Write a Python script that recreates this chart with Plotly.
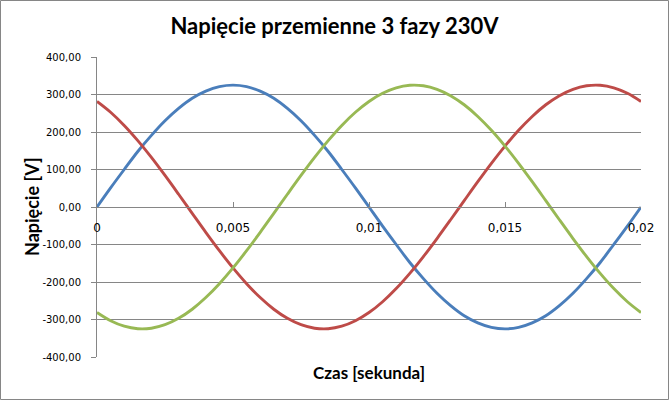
import plotly.graph_objects as go

# Time samples [s]
czas = [0.0, 0.0005, 0.001, 0.0015, 0.002, 0.0025, 0.003, 0.0035, 0.004, 0.0045,
        0.005, 0.0055, 0.006, 0.0065, 0.007, 0.0075, 0.008, 0.0085, 0.009, 0.0095,
        0.01, 0.0105, 0.011, 0.0115, 0.012, 0.0125, 0.013, 0.0135, 0.014, 0.0145,
        0.015, 0.0155, 0.016, 0.0165, 0.017, 0.0175, 0.018, 0.0185, 0.019, 0.0195, 0.02]

# Phase voltages [V]
faza_1 = [0, 51, 100, 148, 191, 230, 263, 290, 309, 321,
          325, 321, 309, 290, 263, 230, 191, 148, 100, 51,
          0, -51, -100, -148, -191, -230, -263, -290, -309, -321,
          -325, -321, -309, -290, -263, -230, -191, -148, -100, -51, 0]
faza_2 = [281.5, 252.6, 217.5, 177.0, 132.2, 84.1, 34.0, -17.0, -67.6, -116.5,
          -162.5, -204.5, -241.5, -272.6, -296.9, -313.9, -323.2, -324.6, -317.9, -303.4,
          -281.5, -252.6, -217.5, -177.0, -132.2, -84.1, -34.0, 17.0, 67.6, 116.5,
          162.5, 204.5, 241.5, 272.6, 296.9, 313.9, 323.2, 324.6, 317.9, 303.4, 281.5]
faza_3 = [-281.5, -303.4, -317.9, -324.6, -323.2, -313.9, -296.9, -272.6, -241.5, -204.5,
          -162.5, -116.5, -67.6, -17.0, 34.0, 84.1, 132.2, 177.0, 217.5, 252.6,
          281.5, 303.4, 317.9, 324.6, 323.2, 313.9, 296.9, 272.6, 241.5, 204.5,
          162.5, 116.5, 67.6, 17.0, -34.0, -84.1, -132.2, -177.0, -217.5, -252.6, -281.5]

y_ticks = [-400, -300, -200, -100, 0, 100, 200, 300, 400]
y_labels = ["-400,00", "-300,00", "-200,00", "-100,00", "0,00", "100,00", "200,00", "300,00", "400,00"]
x_ticks = [0, 0.005, 0.01, 0.015, 0.02]
x_labels = ["0", "0,005", "0,01", "0,015", "0,02"]

title = "Napięcie przemienne 3 fazy 230V"
x_title = "Czas [sekunda]"
y_title = "Napięcie [V]"

colors = ["#4A7EBB", "#BE4B48", "#98B954"]
GRAY = "#868686"

W, H = 669, 400
L, R, T, B = 97, 28, 57, 43
pw, ph = W - L - R, H - T - B

fig = go.Figure()
for series, c in zip([faza_1, faza_2, faza_3], colors):
    fig.add_trace(go.Scatter(x=czas, y=series, mode="lines",
                             line=dict(color=c, width=2.9, shape="spline"),
                             showlegend=False, hoverinfo="skip"))

fig.update_layout(
    width=W, height=H,
    margin=dict(l=L, r=R, t=T, b=B),
    paper_bgcolor="white", plot_bgcolor="white",
    font=dict(family="DejaVu Sans", color="black"),
    title=dict(text=title, x=0.5, xref="container", xanchor="center",
               y=1 - 26 / H, yref="container", yanchor="middle",
               font=dict(family="Lato", size=22, color="black", weight="bold")),
)

fig.update_yaxes(
    range=[-400, 400], tickvals=y_ticks, ticktext=y_labels,
    tickfont=dict(family="DejaVu Sans", size=10, color="black"),
    showgrid=True, gridcolor=GRAY, gridwidth=1,
    showline=True, linecolor=GRAY, linewidth=1,
    ticks="outside", ticklen=5, tickcolor=GRAY, tickwidth=1,
    zeroline=False, ticklabelstandoff=8,
)
fig.update_xaxes(
    range=[0, 0.02], tickvals=x_ticks, ticktext=x_labels,
    tickfont=dict(family="DejaVu Sans", size=12, color="black"),
    showgrid=False, zeroline=False,
    showline=True, linecolor=GRAY, linewidth=1,
    ticks="inside", ticklen=5, tickcolor=GRAY, tickwidth=1,
    anchor="free", position=0.5, ticklabelstandoff=10,
)

# axis titles
fig.add_annotation(text=x_title, xref="paper", yref="paper",
                   x=0.5, y=(H - B - 373) / ph, xanchor="center", yanchor="middle",
                   showarrow=False, font=dict(family="Lato", size=17, color="black", weight="bold"))
fig.add_annotation(text=y_title, xref="paper", yref="paper",
                   x=(32 - L) / pw, y=0.5, xanchor="center", yanchor="middle", textangle=-90,
                   showarrow=False, font=dict(family="Lato", size=18, color="black", weight="bold"))

# outer chart border
fig.add_shape(type="rect", xref="paper", yref="paper",
              x0=(0.5 - L) / pw, x1=(W - 0.5 - L) / pw,
              y0=(H - B - (H - 0.5)) / ph, y1=(H - B - 0.5) / ph,
              line=dict(color=GRAY, width=1), fillcolor="rgba(0,0,0,0)", layer="above")

fig.write_html("out.html", config={"displayModeBar": False},
               post_script="document.body.style.margin='0px';")
